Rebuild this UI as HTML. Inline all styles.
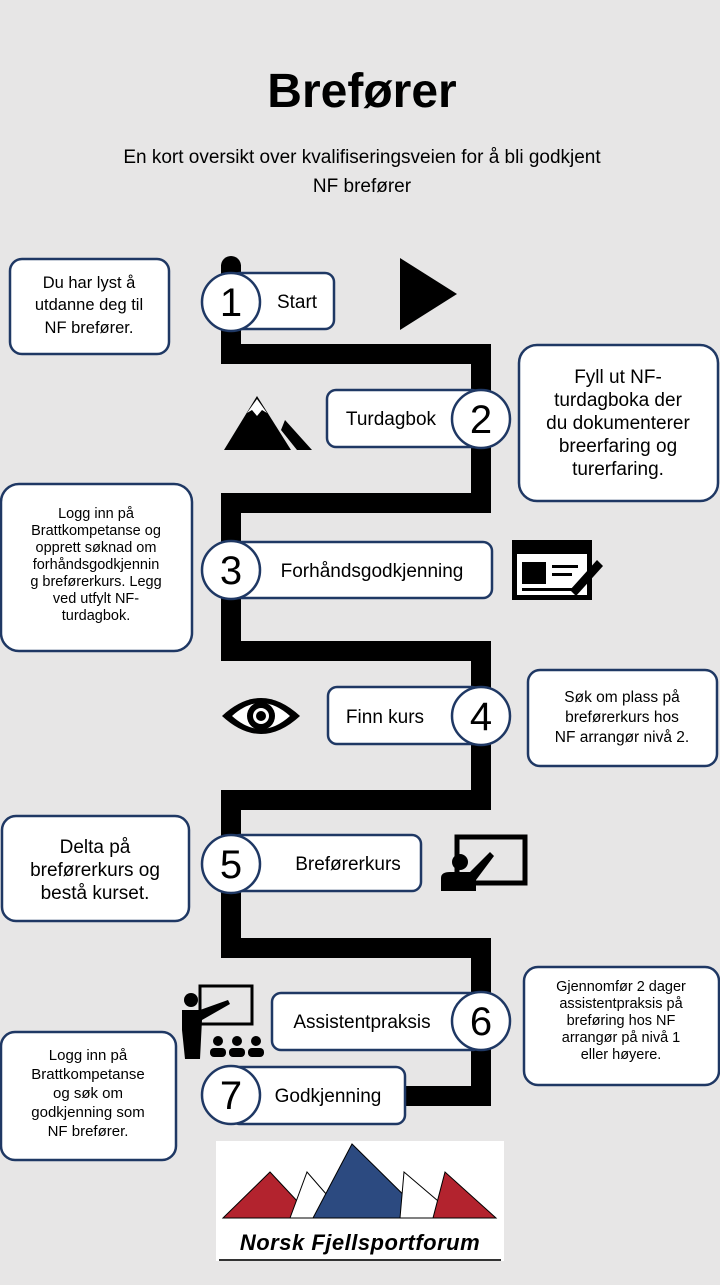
<!DOCTYPE html>
<html><head><meta charset="utf-8"><style>
body{margin:0;width:720px;height:1280px;background:#e7e6e6;overflow:hidden;font-family:"Liberation Sans",sans-serif;}
svg text{font-family:"Liberation Sans",sans-serif;}
</style></head><body>
<svg width="720" height="1280" viewBox="0 0 720 1280" xmlns="http://www.w3.org/2000/svg">
<rect width="720" height="1280" fill="#e7e6e6"/>
<text x="362" y="107" font-size="48" font-weight="bold" text-anchor="middle">Brefører</text>
<text x="362" y="163" font-size="19" text-anchor="middle">En kort oversikt over kvalifiseringsveien for å bli godkjent</text>
<text x="362" y="192" font-size="19" text-anchor="middle">NF brefører</text>

<path d="M231 265 V354 H481 V503 H231 V651 H481 V800 H231 V948 H481 V1096 H400" fill="none" stroke="#000" stroke-width="20"/>
<circle cx="231" cy="266" r="10" fill="#000"/>

<g fill="#fff" stroke="#1f3864" stroke-width="2.5">
<rect x="10" y="259" width="159" height="95" rx="12"/>
<rect x="519" y="345" width="199" height="156" rx="18"/>
<rect x="1" y="484" width="191" height="167" rx="18"/>
<rect x="528" y="670" width="189" height="96" rx="12"/>
<rect x="2" y="816" width="187" height="105" rx="14"/>
<rect x="524" y="967" width="195" height="118" rx="14"/>
<rect x="1" y="1032" width="175" height="128" rx="14"/>

<rect x="231" y="273" width="103" height="56" rx="9"/>
<rect x="327" y="390" width="154" height="57" rx="9"/>
<rect x="231" y="542" width="261" height="56" rx="9"/>
<rect x="328" y="687" width="153" height="57" rx="9"/>
<rect x="231" y="835" width="190" height="56" rx="9"/>
<rect x="272" y="993" width="209" height="57" rx="9"/>
<rect x="231" y="1067" width="174" height="57" rx="9"/>
<circle cx="231" cy="302" r="29"/>
<circle cx="481" cy="419" r="29"/>
<circle cx="231" cy="570" r="29"/>
<circle cx="481" cy="716" r="29"/>
<circle cx="231" cy="864" r="29"/>
<circle cx="481" cy="1021" r="29"/>
<circle cx="231" cy="1095" r="29"/>
</g>
<g font-size="40" text-anchor="middle" fill="#000">
<text x="231" y="316">1</text><text x="481" y="433">2</text><text x="231" y="584">3</text>
<text x="481" y="730">4</text><text x="231" y="878">5</text><text x="481" y="1035">6</text><text x="231" y="1109">7</text>
</g>
<g font-size="19" text-anchor="middle">
<text x="297" y="308">Start</text>
<text x="391" y="425">Turdagbok</text>
<text x="372" y="577">Forhåndsgodkjenning</text>
<text x="385" y="723">Finn kurs</text>
<text x="348" y="870">Breførerkurs</text>
<text x="362" y="1028">Assistentpraksis</text>
<text x="328" y="1102">Godkjenning</text>
</g>
<g text-anchor="middle">
<text font-size="16.5" x="89" y="288">Du har lyst å</text><text font-size="16.5" x="89" y="310">utdanne deg til</text><text font-size="16.5" x="89" y="333">NF brefører.</text>
<text font-size="19" x="618" y="383">Fyll ut NF-</text><text font-size="19" x="618" y="406">turdagboka der</text><text font-size="19" x="618" y="429">du dokumenterer</text><text font-size="19" x="618" y="452">breerfaring og</text><text font-size="19" x="618" y="475">turerfaring.</text>
<g font-size="14.5"><text x="96" y="518">Logg inn på</text><text x="96" y="535">Brattkompetanse og</text><text x="96" y="552">opprett søknad om</text><text x="96" y="569">forhåndsgodkjennin</text><text x="96" y="586">g breførerkurs. Legg</text><text x="96" y="603">ved utfylt NF-</text><text x="96" y="620">turdagbok.</text></g>
<g font-size="15.5"><text x="622" y="702">Søk om plass på</text><text x="622" y="722">breførerkurs hos</text><text x="622" y="742">NF arrangør nivå 2.</text></g>
<g font-size="19"><text x="95" y="853">Delta på</text><text x="95" y="876">breførerkurs og</text><text x="95" y="899">bestå kurset.</text></g>
<g font-size="14.5"><text x="621" y="991">Gjennomfør 2 dager</text><text x="621" y="1008">assistentpraksis på</text><text x="621" y="1025">breføring hos NF</text><text x="621" y="1042">arrangør på nivå 1</text><text x="621" y="1059">eller høyere.</text></g>
<g font-size="15"><text x="88" y="1060">Logg inn på</text><text x="88" y="1079">Brattkompetanse</text><text x="88" y="1098">og søk om</text><text x="88" y="1117">godkjenning som</text><text x="88" y="1136">NF brefører.</text></g>
</g>

<!-- icons -->
<polygon points="400,258 457,294 400,330" fill="#000"/>
<path d="M224 450 L257 396 L291 450 Z" fill="#000"/>
<path d="M247 413 L257 399 L267 413 L262 410 L257 416 L252 410 Z" fill="#fff"/>
<path d="M285 420 L312 450 L297 450 L281 430 Z" fill="#000"/>
<rect x="512" y="540" width="80" height="60" fill="#000"/>
<rect x="517" y="554" width="70" height="41" fill="#fff"/>
<rect x="522" y="562" width="24" height="22" fill="#000"/>
<rect x="552" y="565" width="26" height="3" fill="#000"/><rect x="552" y="573" width="20" height="3" fill="#000"/><rect x="522" y="588" width="50" height="3" fill="#000"/>
<path d="M570 590 L597 560 L603 566 L576 596 Z" fill="#000"/>
<path d="M222 716 Q261 680 300 716 Q261 752 222 716 Z" fill="#000"/>
<path d="M232 716 Q261 690 290 716 Q261 742 232 716 Z" fill="#fff"/>
<circle cx="261" cy="716" r="14" fill="#000"/><circle cx="261" cy="716" r="8" fill="#fff"/><circle cx="261" cy="716" r="5" fill="#000"/>
<rect x="457" y="837" width="68" height="46" fill="none" stroke="#000" stroke-width="5"/>
<circle cx="460" cy="862" r="8" fill="#000"/>
<path d="M441 891 L441 878 Q441 872 450 872 L470 872 L490 852 L494 856 L476 880 L476 891 Z" fill="#000"/>
<rect x="200" y="986" width="52" height="38" fill="none" stroke="#000" stroke-width="3"/>
<circle cx="191" cy="1000" r="7" fill="#000"/>
<path d="M182 1010 L200 1010 L228 1000 L230 1004 L202 1020 L200 1059 L185 1059 L182 1030 Z" fill="#000"/>
<g fill="#000"><circle cx="218" cy="1041" r="5"/><circle cx="237" cy="1041" r="5"/><circle cx="256" cy="1041" r="5"/>
<rect x="210" y="1048" width="16" height="9" rx="4"/><rect x="229" y="1048" width="16" height="9" rx="4"/><rect x="248" y="1048" width="16" height="9" rx="4"/></g>

<!-- logo -->
<rect x="216" y="1141" width="288" height="120" fill="#fff"/>
<g stroke="#000" stroke-width="1">
<polygon points="223,1218 270,1172 313,1218" fill="#b3232e"/>
<polygon points="290,1218 307,1172 347,1218" fill="#fff"/>
<polygon points="313,1218 352,1144 427,1218" fill="#2c4a80"/>
<polygon points="400,1218 404,1172 458,1218" fill="#fff"/>
<polygon points="433,1218 445,1172 496,1218" fill="#b3232e"/>
</g>
<text x="360" y="1250" font-size="22" font-weight="bold" font-style="italic" text-anchor="middle" letter-spacing="0.5">Norsk Fjellsportforum</text>
<rect x="219" y="1259" width="282" height="2" fill="#333"/>
</svg>
</body></html>
